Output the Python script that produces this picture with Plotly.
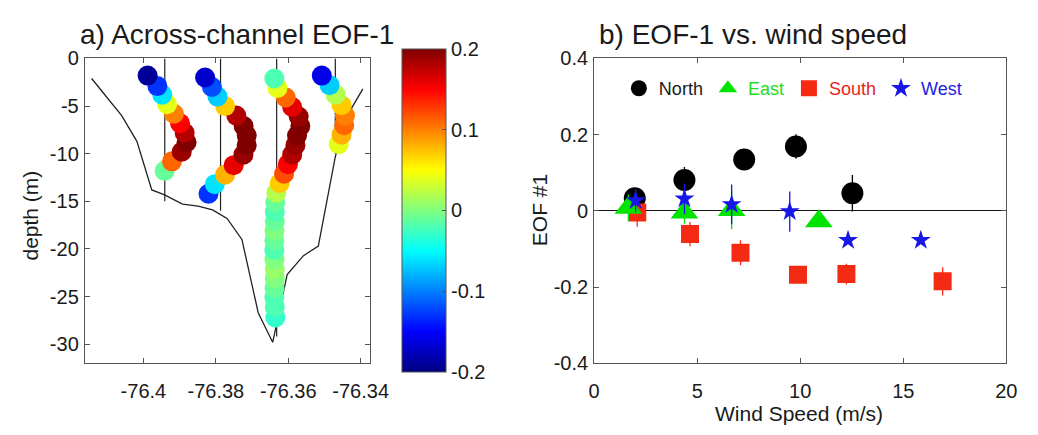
import plotly.graph_objects as go

# ---------------- Panel a: across-channel EOF-1 ----------------
# ADCP bins (lon, depth, EOF value), listed top to bottom for each mooring
m1_lon = [-76.39884, -76.39615, -76.39480, -76.39346, -76.39157, -76.38988,
          -76.38861, -76.38808, -76.38942, -76.39211, -76.39413]
m1_depth = [-1.8, -2.9, -3.8, -4.8, -5.8, -6.8, -7.8, -8.8, -9.8, -10.8, -11.8]
m1_eof = [-0.19, -0.13, -0.06, 0.04, 0.10, 0.15, 0.18, 0.20, 0.19, 0.11, -0.01]

m2_lon = [-76.38296, -76.38108, -76.37954, -76.37744, -76.37435, -76.37233, -76.37147,
          -76.37147, -76.37238, -76.37507, -76.37744, -76.38027, -76.38202]
m2_depth = [-2.0, -3.0, -4.0, -5.0, -6.0, -7.1, -8.1, -9.1, -10.1, -11.2, -12.2, -13.2, -14.2]
m2_eof = [-0.17, -0.12, -0.07, 0.07, 0.18, 0.20, 0.20, 0.20, 0.19, 0.16, 0.08, -0.06, -0.13]

m3_lon = [-76.36385, -76.36296, -76.36070, -76.35892, -76.35712, -76.35666, -76.35758,
          -76.35801, -76.35892, -76.36008, -76.36116, -76.36237, -76.36331, -76.36358,
          -76.36372, -76.36372, -76.36380, -76.36385, -76.36385, -76.36380, -76.36372,
          -76.36372, -76.36380, -76.36385, -76.36372, -76.36358]
m3_depth = [-2.1, -3.1, -4.1, -5.1, -6.1, -7.1, -8.1, -9.1, -10.1, -11.1, -12.1, -13.1, -14.1,
            -15.1, -16.1, -17.1, -18.1, -19.1, -20.1, -21.1, -22.1, -23.1, -24.1, -25.1,
            -26.1, -27.2]
m3_eof = [-0.02, 0.04, 0.11, 0.16, 0.19, 0.20, 0.20, 0.19, 0.18, 0.15, 0.12, 0.07, 0.02,
          -0.01, -0.02, -0.01, 0.00, -0.01, -0.02, 0.00, 0.01, 0.00, -0.01, -0.02, -0.02, -0.03]

m4_lon = [-76.35074, -76.34859, -76.34689, -76.34528, -76.34433, -76.34455, -76.34528, -76.34608]
m4_depth = [-1.8, -2.8, -3.8, -4.9, -6.0, -7.0, -8.0, -9.0]
m4_eof = [-0.16, -0.07, 0.02, 0.07, 0.10, 0.11, 0.08, 0.04]

# mooring positions and the depth they reach
mooring_lon = [-76.3941, -76.3787, -76.3632, -76.3470]
mooring_bottom = [-15.0, -16.0, -29.2, -10.0]

# channel bathymetry
bathy_lon = [-76.4143, -76.4060, -76.4018, -76.3977, -76.3943, -76.3892, -76.3849, -76.3809,
             -76.3769, -76.3728, -76.3683, -76.3643, -76.3603, -76.3558, -76.3517, -76.3470,
             -76.3437, -76.3394]
bathy_depth = [-2.1, -6.0, -8.7, -13.8, -14.3, -15.3, -15.5, -15.9, -16.8, -19.0, -26.7,
               -29.8, -22.7, -20.7, -19.7, -10.3, -6.0, -3.2]

lon_ticks = [-76.4, -76.38, -76.36, -76.34]
lon_ticktext = ["-76.4", "-76.38", "-76.36", "-76.34"]
depth_ticks = [0, -5, -10, -15, -20, -25, -30]
depth_ticktext = ["0", "-5", "-10", "-15", "-20", "-25", "-30"]
cbar_ticks = [0.2, 0.1, 0, -0.1, -0.2]
cbar_ticktext = ["0.2", "0.1", "0", "-0.1", "-0.2"]

# ---------------- Panel b: EOF-1 vs wind speed ----------------
north_ws = [1.97, 4.38, 7.28, 9.79, 12.53]
north_eof = [0.033, 0.081, 0.135, 0.169, 0.046]
north_err = [0.025, 0.034, 0.010, 0.032, 0.048]

east_ws = [1.66, 4.38, 6.67, 10.9]
east_eof = [0.008, -0.004, 0.002, -0.027]
east_err = [0.035, 0.030, 0.050, 0.010]

south_ws = [2.09, 4.65, 7.10, 9.89, 12.24, 16.91]
south_eof = [-0.004, -0.061, -0.110, -0.168, -0.166, -0.185]
south_err = [0.038, 0.032, 0.033, 0.020, 0.027, 0.037]

west_ws = [2.01, 4.38, 6.67, 9.49, 12.32, 15.85]
west_eof = [0.027, 0.032, 0.017, -0.002, -0.077, -0.077]
west_err = [0.030, 0.040, 0.052, 0.053, 0.010, 0.010]

ws_ticks = [0, 5, 10, 15, 20]
eof_ticks = [0.4, 0.2, 0, -0.2, -0.4]
eof_ticktext = ["0.4", "0.2", "0", "-0.2", "-0.4"]

# ---------------- styling ----------------
FONT = "Liberation Sans, Arial, Helvetica, sans-serif"
TXT = "#1a1a1a"
AX = "#555555"
W, H = 1038, 435

jet = [[0.0, "rgb(0,0,128)"], [0.125, "rgb(0,0,255)"], [0.375, "rgb(0,255,255)"],
       [0.625, "rgb(255,255,0)"], [0.875, "rgb(255,0,0)"], [1.0, "rgb(128,0,0)"]]

C_N, C_E, C_S, C_W = "#000000", "#00e400", "#f52a12", "#1818e6"

fig = go.Figure()

# mooring lines
ml_x, ml_y = [], []
for lon, bot in zip(mooring_lon, mooring_bottom):
    ml_x += [lon, lon, None]
    ml_y += [0, bot, None]
fig.add_trace(go.Scatter(x=ml_x, y=ml_y, mode="lines", line=dict(color="#222222", width=1.2),
                         showlegend=False, hoverinfo="skip", xaxis="x", yaxis="y"))
# bathymetry
fig.add_trace(go.Scatter(x=bathy_lon, y=bathy_depth, mode="lines",
                         line=dict(color="#222222", width=1.3),
                         showlegend=False, hoverinfo="skip", xaxis="x", yaxis="y"))

# dots (shallower bins drawn on top)
dot_x, dot_y, dot_c = [], [], []
for lo, de, ev in [(m1_lon, m1_depth, m1_eof), (m2_lon, m2_depth, m2_eof),
                   (m3_lon, m3_depth, m3_eof), (m4_lon, m4_depth, m4_eof)]:
    dot_x += lo[::-1]
    dot_y += de[::-1]
    dot_c += ev[::-1]

fig.add_trace(go.Scatter(
    x=dot_x, y=dot_y, mode="markers", showlegend=False, xaxis="x", yaxis="y",
    marker=dict(size=20, color=dot_c, colorscale=jet, cmin=-0.2, cmax=0.2,
                line=dict(width=0),
                colorbar=dict(x=406 / W, xanchor="left", xpad=0, y=1 - 210 / H, yanchor="middle",
                              ypad=0, len=323, lenmode="pixels", thickness=44,
                              thicknessmode="pixels", outlinewidth=1, outlinecolor=AX,
                              tickvals=cbar_ticks, ticktext=cbar_ticktext, ticks="inside",
                              ticklen=4, tickcolor=AX,
                              tickfont=dict(family=FONT, size=20, color=TXT))),
))

# panel b traces: draw order North, South, East, West; legend order N, E, S, W
fig.add_trace(go.Scatter(x=north_ws, y=north_eof, mode="markers", name="North", legendrank=1,
                         marker=dict(symbol="circle", size=22, color=C_N),
                         error_y=dict(type="data", array=north_err, color=C_N, thickness=1.3, width=0),
                         xaxis="x2", yaxis="y2"))
fig.add_trace(go.Scatter(x=south_ws, y=south_eof, mode="markers",
                         name="<span style='color:#e8231a'>South</span>", legendrank=3,
                         marker=dict(symbol="square", size=18, color=C_S),
                         error_y=dict(type="data", array=south_err, color=C_S, thickness=1.3, width=0),
                         xaxis="x2", yaxis="y2"))
fig.add_trace(go.Scatter(x=east_ws, y=east_eof, mode="markers",
                         name="<span style='color:#22dd22'>East</span>", legendrank=2,
                         marker=dict(symbol="triangle-up", size=24, color=C_E),
                         error_y=dict(type="data", array=east_err, color=C_E, thickness=1.3, width=0),
                         xaxis="x2", yaxis="y2"))
fig.add_trace(go.Scatter(x=west_ws, y=west_eof, mode="markers",
                         name="<span style='color:#2222dd'>West</span>", legendrank=4,
                         marker=dict(symbol="star", size=15, color=C_W),
                         error_y=dict(type="data", array=west_err, color=C_W, thickness=1.3, width=0),
                         xaxis="x2", yaxis="y2"))

ydom = [1 - 371 / H, 1 - 50 / H]
axis_common = dict(showline=True, linecolor=AX, linewidth=1, mirror="allticks", ticks="inside",
                   ticklen=5, tickcolor=AX, showgrid=False,
                   tickfont=dict(family=FONT, size=20, color=TXT))

fig.update_layout(
    width=W, height=H, autosize=False,
    margin=dict(l=0, r=0, t=0, b=0),
    paper_bgcolor="white", plot_bgcolor="white",
    font=dict(family=FONT, color=TXT),
    xaxis=dict(domain=[80.7 / W, 372.7 / W], anchor="y", range=[-76.4162, -76.3375],
               tickvals=lon_ticks, ticktext=lon_ticktext, ticklabelstandoff=10,
               zeroline=False, **axis_common),
    yaxis=dict(domain=ydom, anchor="x", range=[-32, 0], tickvals=depth_ticks,
               ticktext=depth_ticktext, ticklabelstandoff=1, zeroline=False, **axis_common),
    xaxis2=dict(domain=[602.7 / W, 1025 / W], anchor="y2", range=[0, 20], tickvals=ws_ticks,
                ticklabelstandoff=10, zeroline=False, **axis_common),
    yaxis2=dict(domain=ydom, anchor="x2", range=[-0.4, 0.4], tickvals=eof_ticks,
                ticktext=eof_ticktext, ticklabelstandoff=1, **axis_common,
                zeroline=True, zerolinecolor="#111111", zerolinewidth=1.2),
    legend=dict(orientation="h", x=628 / W, xanchor="left", y=1 - 81.7 / H, yanchor="middle",
                bgcolor="rgba(0,0,0,0)", font=dict(family=FONT, size=18, color=TXT),
                itemsizing="trace", traceorder="normal"),
    showlegend=True,
)

annots = [
    dict(text="a) Across-channel EOF-1", x=74 / W, y=1 - 25 / H, xanchor="left", yanchor="middle",
         font=dict(size=28)),
    dict(text="b) EOF-1 vs. wind speed", x=606 / W, y=1 - 25 / H, xanchor="left", yanchor="middle",
         font=dict(size=28)),
    dict(text="depth (m)", x=25 / W, y=1 - 215 / H, xanchor="center", yanchor="middle",
         textangle=-90, font=dict(size=21)),
    dict(text="EOF #1", x=547 / W, y=1 - 210 / H, xanchor="center", yanchor="middle",
         textangle=-90, font=dict(size=21)),
    dict(text="Wind Speed (m/s)", x=813 / W, y=1 - 424 / H, xanchor="center", yanchor="middle",
         font=dict(size=21)),
]
for a in annots:
    a.update(xref="paper", yref="paper", showarrow=False)
    a["font"] = dict(family=FONT, color=TXT, **a["font"])
fig.update_layout(annotations=annots)

fig.write_html("out.html")
